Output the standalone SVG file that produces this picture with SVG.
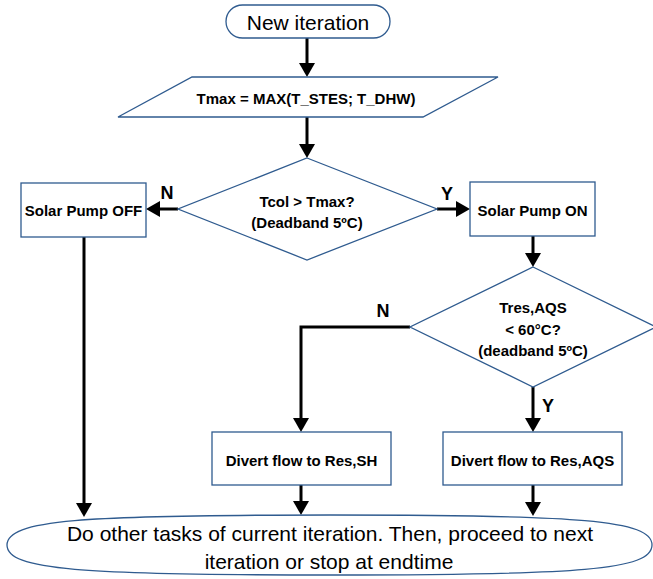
<svg xmlns="http://www.w3.org/2000/svg" width="653" height="579" viewBox="0 0 653 579">
<defs>
<marker id="ah" markerUnits="userSpaceOnUse" viewBox="0 0 14 16" refX="6" refY="8" markerWidth="14" markerHeight="16" orient="auto">
<path d="M0,0 L14,8 L0,16 Z" fill="#000"/>
</marker>
<style>
.shape{fill:#fff;stroke:#2f5b8f;stroke-width:1.3}
.b{font-family:"Liberation Sans",Arial,sans-serif;font-weight:bold;font-size:15px;fill:#000;text-anchor:middle}
.r{font-family:"Liberation Sans",Arial,sans-serif;font-size:21px;fill:#000;text-anchor:middle}
.lbl{font-family:"Liberation Sans",Arial,sans-serif;font-weight:bold;font-size:18px;fill:#000;text-anchor:middle}
.c{fill:none;stroke:#000;stroke-width:3;marker-end:url(#ah)}
</style>
</defs>
<rect width="653" height="579" fill="#fff"/>
<g id="connectors">
<line class="c" x1="307" y1="38" x2="307" y2="69"/>
<line class="c" x1="307" y1="117" x2="307" y2="150"/>
<line class="c" x1="178" y1="209" x2="154" y2="209"/>
<line class="c" x1="437" y1="209" x2="462" y2="209"/>
<line class="c" x1="533" y1="236" x2="533" y2="259"/>
<polyline class="c" points="410,327 301,327 301,424"/>
<line class="c" x1="533" y1="387" x2="533" y2="424"/>
<line class="c" x1="84" y1="237" x2="84" y2="509"/>
<line class="c" x1="301" y1="485" x2="301" y2="507"/>
<line class="c" x1="533" y1="485" x2="533" y2="508"/>
<text class="lbl" x="167" y="198.5">N</text>
<text class="lbl" x="447" y="199.5">Y</text>
<text class="lbl" x="383" y="316.5">N</text>
<text class="lbl" x="548" y="411.5">Y</text>
</g>
<g id="start">
<rect class="shape" x="226" y="5" width="164" height="33" rx="16.5" ry="16.5"/>
<text class="r" x="308" y="29.5">New iteration</text>
</g>
<g id="tmax">
<polygon class="shape" points="192,77 498,77 423,117 118,117"/>
<text class="b" x="306" y="104">Tmax = MAX(T_STES; T_DHW)</text>
</g>
<g id="decision1">
<polygon class="shape" points="307,158 437,209 307,260 178,209"/>
<text class="b" x="307" y="206.5">Tcol &gt; Tmax?</text>
<text class="b" x="307" y="227.5">(Deadband 5ºC)</text>
</g>
<g id="pump-off">
<rect class="shape" x="21" y="183" width="125" height="54"/>
<text class="b" x="83.5" y="215.5">Solar Pump OFF</text>
</g>
<g id="pump-on">
<rect class="shape" x="470" y="182" width="125" height="54"/>
<text class="b" x="532.5" y="215.5">Solar Pump ON</text>
</g>
<g id="decision2">
<polygon class="shape" points="533,267 656,327 533,387 410,327"/>
<text class="b" x="533" y="312.5">Tres,AQS</text>
<text class="b" x="533" y="334.5">&lt; 60°C?</text>
<text class="b" x="533" y="355.5">(deadband 5ºC)</text>
</g>
<g id="divert-sh">
<rect class="shape" x="212" y="432" width="179" height="53"/>
<text class="b" x="301.5" y="466">Divert flow to Res,SH</text>
</g>
<g id="divert-aqs">
<rect class="shape" x="443" y="432" width="179" height="53"/>
<text class="b" x="532.5" y="466">Divert flow to Res,AQS</text>
</g>
<g id="end">
<path class="shape" d="M7,545 C7,520 80,515 330,515 C580,515 652,520 652,545 C652,570 580,575 330,575 C80,575 7,570 7,545 Z"/>
<text class="r" x="330" y="540.5">Do other tasks of current iteration. Then, proceed to next</text>
<text class="r" x="329" y="569">iteration or stop at endtime</text>
</g>
</svg>
